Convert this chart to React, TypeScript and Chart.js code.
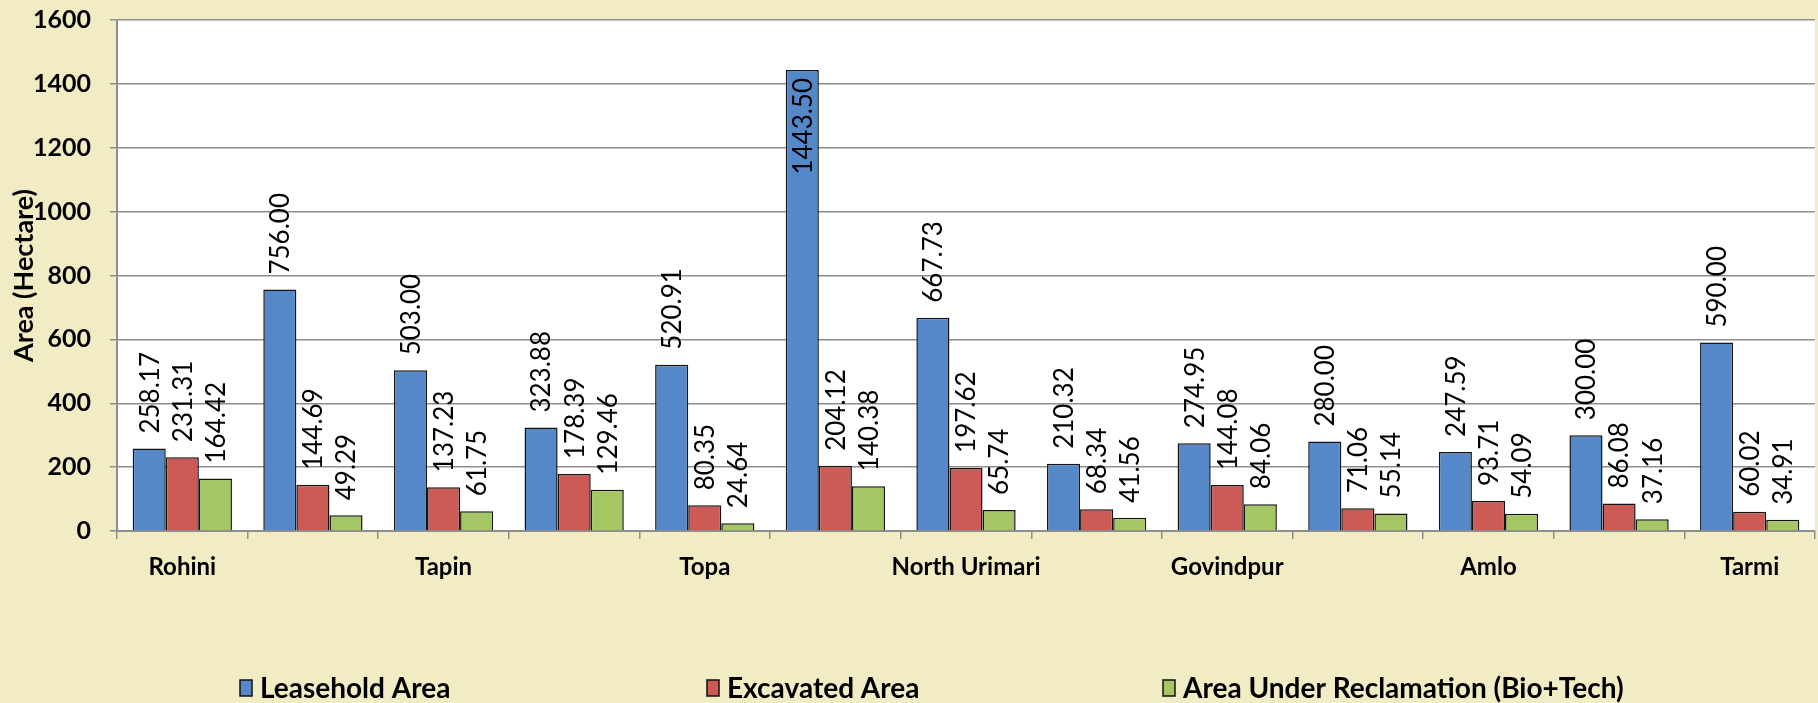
import React, { useEffect, useRef } from "react";
import { Chart, registerables } from "chart.js";

Chart.register(...registerables);

const categories = ["Rohini", "", "Tapin", "", "Topa", "", "North Urimari", "", "Govindpur", "", "Amlo", "", "Tarmi"];
const leasehold = [258.17, 756.0, 503.0, 323.88, 520.91, 1443.5, 667.73, 210.32, 274.95, 280.0, 247.59, 300.0, 590.0];
const excavated = [231.31, 144.69, 137.23, 178.39, 80.35, 204.12, 197.62, 68.34, 144.08, 71.06, 93.71, 86.08, 60.02];
const reclamation = [164.42, 49.29, 61.75, 129.46, 24.64, 140.38, 65.74, 41.56, 84.06, 55.14, 54.09, 37.16, 34.91];
const seriesNames = ["Leasehold Area", "Excavated Area", "Area Under Reclamation (Bio+Tech)"];
const seriesColors = ["#5588C8", "#CC5A55", "#A4C664"];
const yTicks = [0, 200, 400, 600, 800, 1000, 1200, 1400, 1600];

const BG = "#F2ECC4";
const GRID = "#8E8E8E";
const FONT = "Lato";

const valueLabels = {
  id: "valueLabels",
  afterDatasetsDraw(chart: any) {
    const ctx = chart.ctx;
    const area = chart.chartArea;
    ctx.save();
    ctx.font = `400 26px ${FONT}`;
    ctx.fillStyle = "#000";
    ctx.textBaseline = "middle";
    chart.data.datasets.forEach((ds: any, di: number) => {
      const meta = chart.getDatasetMeta(di);
      meta.data.forEach((el: any, i: number) => {
        const txt = Number(ds.data[i]).toFixed(2);
        const w = ctx.measureText(txt).width;
        ctx.save();
        if (el.y - 15 - w < area.top) {
          ctx.translate(el.x, el.y + 8);
          ctx.rotate(-Math.PI / 2);
          ctx.textAlign = "right";
        } else {
          ctx.translate(el.x, el.y - 15);
          ctx.rotate(-Math.PI / 2);
          ctx.textAlign = "left";
        }
        ctx.fillText(txt, 0, 1);
        ctx.restore();
      });
    });
    ctx.restore();
  },
};

const legendColumns = [240, 707, 1163];

const customLegend = {
  id: "customLegend",
  afterDraw(chart: any) {
    const ctx = chart.ctx;
    const y = 688;
    ctx.save();
    ctx.font = `700 28px ${FONT}`;
    ctx.textBaseline = "middle";
    ctx.textAlign = "left";
    chart.data.datasets.forEach((ds: any, i: number) => {
      const x = legendColumns[i];
      ctx.fillStyle = ds.backgroundColor;
      ctx.fillRect(x, y - 8, 12, 16);
      ctx.strokeStyle = "#111";
      ctx.lineWidth = 1.5;
      ctx.strokeRect(x, y - 8, 12, 16);
      ctx.fillStyle = "#000";
      ctx.fillText(ds.label, x + 20, y + 1);
    });
    ctx.restore();
  },
};

const plotBg = {
  id: "plotBg",
  beforeDraw(chart: any) {
    const { ctx, chartArea } = chart;
    ctx.save();
    ctx.fillStyle = BG;
    ctx.fillRect(0, 0, chart.width, chart.height);
    ctx.fillStyle = "#FFFFFF";
    ctx.fillRect(chartArea.left, chartArea.top, chartArea.right - chartArea.left, chartArea.bottom - chartArea.top);
    ctx.restore();
  },
};

export default function App() {
  const ref = useRef<HTMLCanvasElement | null>(null);

  useEffect(() => {
    document.body.style.margin = "0";
    if (!ref.current) return;
    const datasets = [leasehold, excavated, reclamation].map((d, i) => ({
      label: seriesNames[i],
      data: d,
      backgroundColor: seriesColors[i],
      borderColor: "#141414",
      borderWidth: 1.5,
      categoryPercentage: 0.76,
      barPercentage: 1.0,
    }));
    const chart = new Chart(ref.current, {
      type: "bar",
      data: { labels: categories, datasets },
      options: {
        animation: false,
        responsive: false,
        devicePixelRatio: 1,
        layout: { padding: { top: 20, right: 3, left: 0, bottom: 0 } },
        plugins: {
          legend: { display: false },
          tooltip: { enabled: false },
        },
        scales: {
          x: {
            afterFit: (s: any) => {
              s.height = 172;
            },
            grid: {
              display: true,
              offset: true,
              drawOnChartArea: false,
              drawTicks: true,
              tickLength: 8,
              color: GRID,
              lineWidth: 1.5,
            },
            border: { display: true, color: GRID, width: 2 },
            ticks: {
              autoSkip: false,
              maxRotation: 0,
              minRotation: 0,
              padding: 14,
              color: "#000",
              font: { family: FONT, size: 24, weight: "bold" },
            },
          },
          y: {
            min: 0,
            max: 1600,
            afterFit: (s: any) => {
              s.width = 117;
              s.paddingTop = 0;
              s.paddingBottom = 0;
            },
            afterBuildTicks: (s: any) => {
              s.ticks = yTicks.map((v) => ({ value: v }));
            },
            grid: {
              color: GRID,
              lineWidth: 1.5,
              tickLength: 7,
            },
            border: { display: true, color: GRID, width: 2 },
            ticks: {
              padding: 19,
              color: "#000",
              font: { family: FONT, size: 25, weight: "bold" },
              callback: (v: any) => String(v),
            },
            title: {
              display: true,
              text: "Area (Hectare)",
              color: "#000",
              padding: { top: 8, bottom: 0 },
              font: { family: FONT, size: 27, weight: "bold" },
            },
          },
        },
      },
      plugins: [plotBg, valueLabels, customLegend],
    });
    return () => chart.destroy();
  }, []);

  return (
    <div style={{ position: "fixed", left: 0, top: 0, width: 1818, height: 703, background: BG }}>
      <canvas ref={ref} width={1818} height={703} style={{ display: "block" }} />
    </div>
  );
}
